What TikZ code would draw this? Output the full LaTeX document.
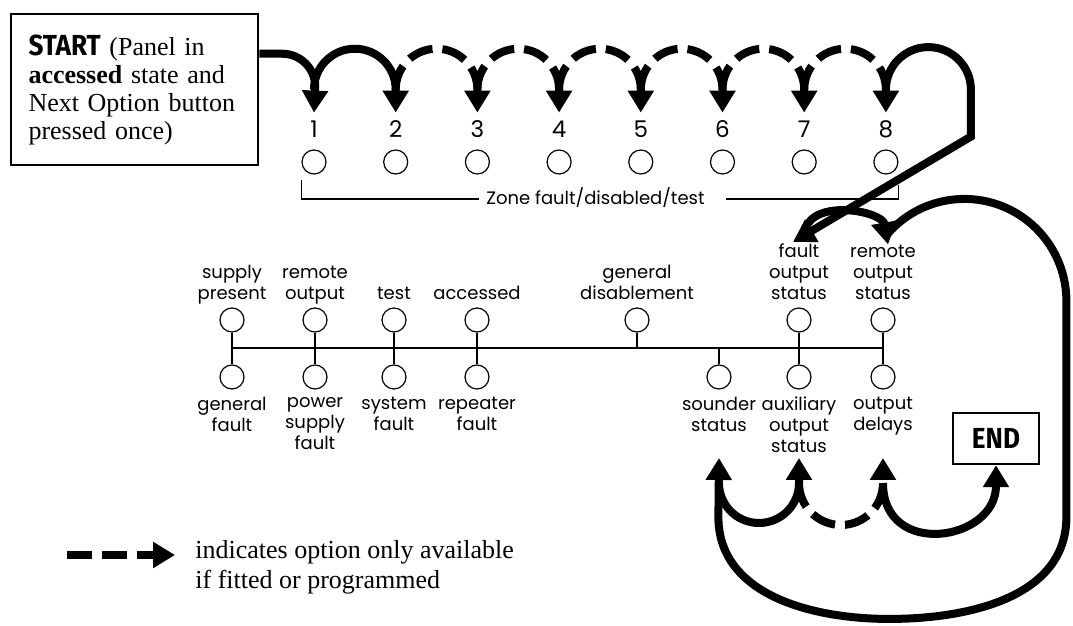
\documentclass[tikz,border=0pt]{standalone}
\usepackage{fontspec}
\setmainfont{Liberation Serif}
\newfontfamily\lblfont{Poppins}
\newfontfamily\capfont[FakeStretch=0.9]{Fira Sans}
\usetikzlibrary{arrows.meta,calc}
\tikzset{led/.style={draw,circle,line width=.6pt,minimum size=12pt,inner sep=0pt},
 lbl/.style={font=\lblfont\fontsize{9}{10.5}\selectfont,align=center,inner sep=0pt,
  execute at begin node=\strut,execute at end node=\strut},
 toplbl/.style={lbl,label distance=.8pt},botlbl/.style={lbl,label distance=3.6pt},
 num/.style={font=\lblfont\fontsize{11.5}{12}\selectfont,inner sep=0pt,text height=7.5pt,text depth=0pt},
 flow/.style={line width=4pt,-{Triangle[length=11pt,width=12.5pt]}},
 opt/.style={flow,dash pattern=on 12.5pt off 5pt},
 wire/.style={line width=.6pt},
 box/.style={draw,line width=1.25pt,inner sep=0pt},
 bigcap/.style={font=\capfont\bfseries\fontsize{14.5}{14}\selectfont}}
\begin{document}
\begin{tikzpicture}[x=.5pt,y=.5pt]
\useasboundingbox (0,0) rectangle (1073,626);
\node[box,text width=106pt,minimum width=123.5pt,minimum height=75.5pt,align=left,font=\fontsize{13}{14}\selectfont] (start) at (134.5,536.5)
 {{\capfont\bfseries\fontsize{14.5}{14}\selectfont START} (Panel in\\\textbf{accessed} state and\\Next Option button\\pressed once)};
\node[box,bigcap,minimum width=43pt,minimum height=25.5pt] (endb) at (996,187.5) {END};
% zone leds
\foreach \i [evaluate=\i as \x using 314+81.7*(\i-1)] in {1,...,8}{
 \node[num] (d\i) at (\x,496) {\i};
 \node[led] (z\i) at (\x,464) {};}
\node[lbl] (zt) at (595.5,427) {Zone fault/disabled/test};
\draw[wire] (z1.west |- 0,446) |- ([xshift=-3.5pt]zt.west);
\draw[wire] ([xshift=10.5pt]zt.east) -| (z8.east |- 0,441);
% status leds
\node[led,label={[toplbl]above:{supply\\present}}] (sp) at (232,306) {};
\node[led,label={[toplbl]above:{remote\\output}}] (ro) at (315,306) {};
\node[led,label={[toplbl]above:test}] (ts) at (394,306) {};
\node[led,label={[toplbl]above:accessed}] (ac) at (477,306) {};
\node[led,label={[toplbl]above:{general\\disablement}}] (gd) at (637,306) {};
\node[led,label={[toplbl,name=lfo]above:{fault\\output\\status}}] (fo) at (799,306) {};
\node[led,label={[toplbl,name=lrs]above:{remote\\output\\status}}] (rs) at (883,306) {};
\node[led,label={[botlbl]below:{general\\fault}}] (gf) at (232,249) {};
\node[led,label={[botlbl]below:{power\\supply\\fault}}] (ps) at (315,249) {};
\node[led,label={[botlbl]below:{system\\fault}}] (sf) at (394,249) {};
\node[led,label={[botlbl]below:{repeater\\fault}}] (rf) at (477,249) {};
\node[led,label={[botlbl]below:{sounder\\status}}] (ss) at (719,249) {};
\node[led,label={[botlbl]below:{auxiliary\\output\\status}}] (ax) at (799,249) {};
\node[led,label={[botlbl]below:{output\\delays}}] (od) at (883,249) {};
\coordinate (bus) at (0,278);\coordinate (tip) at (0,168);\coordinate (foot) at (0,143);
\draw[wire] (sp |- bus) -- (rs |- bus);
\foreach \a/\b in {sp/gf,ro/ps,ts/sf,ac/rf,fo/ax,rs/od} \draw[wire] (\a) -- (\b);
\draw[wire] (gd) -- (gd |- bus);\draw[wire] (ss) -- (ss |- bus);
% sequence
\draw[flow] ([yshift=-20.5pt]start.north east) -- ++(23,0) arc[start angle=90,end angle=0,radius=16.5pt] -- ([yshift=4.75pt]d1.north);
\foreach \i/\j/\s in {1/2/flow,2/3/opt,3/4/opt,4/5/opt,5/6/opt,6/7/opt,7/8/opt}
 \draw[\s] ([yshift=16.25pt]d\i.north) arc[start angle=180,end angle=0,radius=20.425pt] -- ([yshift=4.75pt]d\j.north);
\draw[flow] ([yshift=16.25pt]d8.north) arc[start angle=180,end angle=0,radius=21.25pt] -- ++(0,-47) -- ([xshift=-3pt,yshift=.5pt]lfo.north);
\draw[flow] ([xshift=3pt,yshift=7pt]lfo.north) to[out=70,in=100] ([xshift=2.5pt]lrs.north);
\draw[flow] ([xshift=2.5pt,yshift=5.5pt]lrs.north) arc[start angle=138.5,end angle=0,radius=51pt] -- ++(0,-216)
 to[out=-90,in=0] ++(-177,-102) to[out=180,in=-90] ++(-171,102) -- (ss |- tip);
\draw[flow] (ss |- foot) arc[start angle=180,end angle=360,radius=20pt] -- (ax |- tip);
\draw[opt] (ax |- foot) arc[start angle=180,end angle=360,radius=21pt] -- (od |- tip);
\draw[flow] (od |- foot) to[out=-90,in=-90,looseness=1.7] (endb.south);
% legend
\node[anchor=west,align=left,inner sep=0pt,font=\fontsize{13}{15}\selectfont,execute at begin node=\strut,execute at end node=\strut] (leg) at (195,57)
 {indicates option only available\\if fitted or programmed};
\draw[opt] ([xshift=-64pt,yshift=7pt]leg.west) -- ([xshift=-10pt,yshift=7pt]leg.west);
\end{tikzpicture}
\end{document}
